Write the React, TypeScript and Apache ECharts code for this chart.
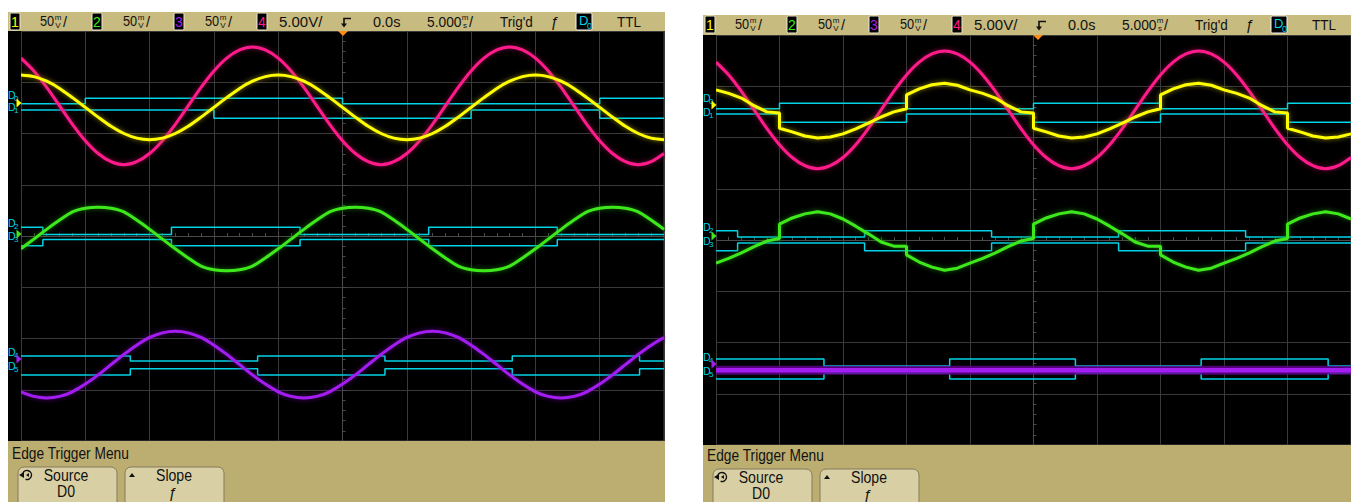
import React, { useEffect, useRef } from "react";
import * as echarts from "echarts";

// ---------- data (time in ms, amplitude in screen divisions) ----------
const TIME_MS = [-25,-24,-23,-22,-21,-20,-19,-18,-17,-16,-15,-14,-13,-12,-11,-10,-9,-8,-7,-6,-5,-4,-3,-2,-1,0,1,2,3,4,5,6,7,8,9,10,11,12,13,14,15,16,17,18,19,20,21,22,23,24,25];

// left screen
const L_CH4 = [3.47,3.22,2.90,2.54,2.18,1.86,1.61,1.45,1.39,1.45,1.61,1.86,2.18,2.54,2.90,3.22,3.47,3.63,3.69,3.63,3.47,3.22,2.90,2.54,2.18,1.86,1.61,1.45,1.39,1.45,1.61,1.86,2.18,2.54,2.90,3.22,3.47,3.63,3.69,3.63,3.47,3.22,2.90,2.54,2.18,1.86,1.61,1.45,1.39,1.45,1.61];
const L_CH1 = [3.14,3.11,3.02,2.88,2.70,2.51,2.32,2.14,2.00,1.91,1.88,1.91,2.00,2.14,2.32,2.51,2.70,2.88,3.02,3.11,3.14,3.11,3.02,2.88,2.70,2.51,2.32,2.14,2.00,1.91,1.88,1.91,2.00,2.14,2.32,2.51,2.70,2.88,3.02,3.11,3.14,3.11,3.02,2.88,2.70,2.51,2.32,2.14,2.00,1.91,1.88];
const L_CH2 = [-0.25,-0.06,0.13,0.31,0.47,0.54,0.56,0.54,0.47,0.31,0.13,-0.06,-0.25,-0.43,-0.59,-0.66,-0.68,-0.66,-0.59,-0.43,-0.25,-0.06,0.13,0.31,0.47,0.54,0.56,0.54,0.47,0.31,0.13,-0.06,-0.25,-0.43,-0.59,-0.66,-0.68,-0.66,-0.59,-0.43,-0.25,-0.06,0.13,0.31,0.47,0.54,0.56,0.54,0.47,0.31,0.13];
const L_CH3 = [-3.04,-3.13,-3.16,-3.13,-3.04,-2.89,-2.71,-2.51,-2.31,-2.13,-1.98,-1.89,-1.86,-1.89,-1.98,-2.13,-2.31,-2.51,-2.71,-2.89,-3.04,-3.13,-3.16,-3.13,-3.04,-2.89,-2.71,-2.51,-2.31,-2.13,-1.98,-1.89,-1.86,-1.89,-1.98,-2.13,-2.31,-2.51,-2.71,-2.89,-3.04,-3.13,-3.16,-3.13,-3.04,-2.89,-2.71,-2.51,-2.31,-2.13,-1.98];

const L_D0 = [[-25,2.58],[-20,2.69],[0,2.58],[20,2.69],[25,2.69]];
const L_D1 = [[-25,2.46],[-10,2.30],[10,2.46],[20,2.30],[25,2.30]];
const L_D2 = [[-25,0.17],[-23.3,0.03],[-13.3,0.17],[-3.3,0.03],[6.7,0.17],[16.7,0.03],[25,0.03]];
const L_D3 = [[-25,-0.19],[-23.3,-0.07],[-13.3,-0.19],[-3.3,-0.07],[6.7,-0.19],[16.7,-0.07],[25,-0.07]];
const L_D4 = [[-25,-2.34],[-16.5,-2.44],[-6.6,-2.34],[3.3,-2.44],[13.2,-2.34],[23.1,-2.44],[25,-2.44]];
const L_D5 = [[-25,-2.71],[-16.5,-2.59],[-6.6,-2.71],[3.3,-2.59],[13.2,-2.71],[23.1,-2.59],[25,-2.59]];

// right screen
const R_CH4 = [3.47,3.22,2.90,2.54,2.18,1.86,1.61,1.45,1.39,1.45,1.61,1.86,2.18,2.54,2.90,3.22,3.47,3.63,3.69,3.63,3.47,3.22,2.90,2.54,2.18,1.86,1.61,1.45,1.39,1.45,1.61,1.86,2.18,2.54,2.90,3.22,3.47,3.63,3.69,3.63,3.47,3.22,2.90,2.54,2.18,1.86,1.61,1.45,1.39,1.45,1.61];
const R_CH1 = [[-25,2.93],[-24,2.86],[-23,2.77],[-22,2.62],[-21,2.50],[-20,2.48],[-20,2.18],[-19,2.11],[-18,2.03],[-17,1.99],[-16,2.01],[-15,2.07],[-14,2.17],[-13,2.28],[-12,2.40],[-11,2.50],[-10,2.56],[-10,2.83],[-9,2.95],[-8,3.03],[-7,3.06],[-6,3.02],[-5,2.93],[-4,2.86],[-3,2.77],[-2,2.62],[-1,2.50],[0,2.48],[0,2.18],[1,2.11],[2,2.03],[3,1.99],[4,2.01],[5,2.07],[6,2.17],[7,2.28],[8,2.40],[9,2.50],[10,2.56],[10,2.83],[11,2.95],[12,3.03],[13,3.06],[14,3.02],[15,2.93],[16,2.86],[17,2.77],[18,2.62],[19,2.50],[20,2.48],[20,2.18],[21,2.11],[22,2.03],[23,1.99],[24,2.01],[25,2.07]];
const R_CH2 = [[-25,-0.45],[-24,-0.36],[-23,-0.25],[-22,-0.13],[-21,-0.02],[-20,0.03],[-20,0.31],[-19,0.43],[-18,0.51],[-17,0.55],[-16,0.51],[-15,0.41],[-14,0.27],[-13,0.12],[-12,-0.04],[-11,-0.12],[-10,-0.12],[-10,-0.29],[-9,-0.43],[-8,-0.53],[-7,-0.59],[-6,-0.55],[-5,-0.45],[-4,-0.36],[-3,-0.25],[-2,-0.13],[-1,-0.02],[0,0.03],[0,0.31],[1,0.43],[2,0.51],[3,0.55],[4,0.51],[5,0.41],[6,0.27],[7,0.12],[8,-0.04],[9,-0.12],[10,-0.12],[10,-0.29],[11,-0.43],[12,-0.53],[13,-0.59],[14,-0.55],[15,-0.45],[16,-0.36],[17,-0.25],[18,-0.13],[19,-0.02],[20,0.03],[20,0.31],[21,0.43],[22,0.51],[23,0.55],[24,0.51],[25,0.41]];
const R_CH3 = [[-25,-2.54],[25,-2.54]];

const R_D0 = [[-25,2.56],[-20,2.67],[-10,2.56],[0,2.67],[10,2.56],[20,2.67],[25,2.67]];
const R_D1 = [[-25,2.46],[-20,2.30],[-10,2.46],[0,2.30],[10,2.46],[20,2.30],[25,2.30]];
const R_D2 = [[-25,0.18],[-23.3,0.06],[-13.3,0.18],[-3.3,0.06],[6.7,0.18],[16.7,0.06],[25,0.06]];
const R_D3 = [[-25,-0.21],[-23.3,-0.06],[-13.3,-0.21],[-3.3,-0.06],[6.7,-0.21],[16.7,-0.06],[25,-0.06]];
const R_D4 = [[-25,-2.32],[-16.5,-2.46],[-6.6,-2.32],[3.3,-2.46],[13.2,-2.32],[23.2,-2.46],[25,-2.46]];
const R_D5 = [[-25,-2.71],[-16.5,-2.60],[-6.6,-2.71],[3.3,-2.60],[13.2,-2.71],[23.2,-2.60],[25,-2.60]];

// header / menu texts
const CH_NUMS = ["1", "2", "3", "4"];
const CH_SCALES = ["50", "50", "50"];
const CH4_SCALE = "5.00V/";
const DELAY = "0.0s";
const TIMEBASE = "5.000";
const TRIG_STATE = "Trig'd";
const TRIG_LEVEL = "TTL";
const MENU_TITLE = "Edge Trigger Menu";
const SOFTKEYS = [["Source", "D0"], ["Slope", "ƒ"]];

// ---------- styling ----------
const TAN = "#c8bb7f";
const MENU_TAN = "#bcae70";
const BTN = "#d8d0a4";
const YELLOW = "#ffff00";
const GREEN = "#3ee81c";
const PURPLE = "#a41ef2";
const PINK = "#ff1a8a";
const CYAN = "#00d4e6";
const FONT = '"Liberation Sans",Arial,sans-serif';
const CH_COLORS = [YELLOW, GREEN, PURPLE, PINK];

const txt = (x: number, y: number, text: string, fill: string, size = 14.5, align = "left", z = 20, sx = 1) => ({
  type: "text", x, y, z, silent: true, scaleX: sx,
  style: { text, fill, font: `${size}px ${FONT}`, textAlign: align, textVerticalAlign: "middle" },
});
const rect = (x: number, y: number, w: number, h: number, fill: string, stroke?: string, r = 0, z = 10) => ({
  type: "rect", z, silent: true,
  shape: { x, y, width: w, height: h, r },
  style: { fill, stroke: stroke || null, lineWidth: 1 },
});
const poly = (points: number[][], fill: string, z = 21) => ({
  type: "polygon", z, silent: true, shape: { points }, style: { fill },
});

function header(ox: number, top: number, width: number, plotTop: number) {
  const cy = top + 9.5;
  const els: any[] = [rect(ox + 8, top, width, plotTop - top, TAN)];
  const boxX = [10, 92, 174, 257];
  boxX.forEach((bx, i) => {
    els.push(rect(ox + bx, cy - 8.5, 10, 17, "#000", "#ece8d6", 1.5, 15));
    els.push(txt(ox + bx + 5, cy, CH_NUMS[i], CH_COLORS[i], 14, "center"));
  });
  const sx = [40, 123, 205];
  sx.forEach((x, i) => {
    els.push(txt(ox + x, cy, CH_SCALES[i], "#111", 14.5, "left", 20, 0.88));
    els.push(txt(ox + x + 18, cy - 4, "m", "#111", 8, "center"));
    els.push(txt(ox + x + 18, cy + 4, "V", "#111", 8, "center"));
    els.push(txt(ox + x + 23, cy, "/", "#111"));
  });
  els.push(txt(ox + 279, cy, CH4_SCALE, "#111", 15));
  // trigger position symbol
  els.push({ type: "polyline", z: 21, silent: true, shape: { points: [[ox + 351, cy - 3], [ox + 344, cy - 3], [ox + 344, cy + 3]] }, style: { stroke: "#111", lineWidth: 1.6, fill: null } });
  els.push(poly([[ox + 341, cy + 2], [ox + 347, cy + 2], [ox + 344, cy + 6]], "#111"));
  els.push(poly([[ox + 338, plotTop], [ox + 348, plotTop], [ox + 343, plotTop + 5]], "#ff8c1a", 30));
  els.push(txt(ox + 373, cy, DELAY, "#111"));
  els.push(txt(ox + 427, cy, TIMEBASE, "#111", 14.5, "left", 20, 0.95));
  els.push(txt(ox + 465, cy - 4, "m", "#111", 8, "center"));
  els.push(txt(ox + 465, cy + 4, "s", "#111", 8, "center"));
  els.push(txt(ox + 469, cy, "/", "#111"));
  els.push(txt(ox + 500, cy, TRIG_STATE, "#111", 14.5, "left", 20, 0.93));
  els.push(txt(ox + 555, cy, "ƒ", "#111", 15, "center"));
  els.push(rect(ox + 576, cy - 8.5, 16, 17, "#000", "#f4f4f4", 1.5, 15));
  els.push(txt(ox + 579, cy - 1, "D", CYAN, 13));
  els.push(txt(ox + 587, cy + 4, "0", CYAN, 9));
  els.push(txt(ox + 617, cy, TRIG_LEVEL, "#111", 14.5, "left", 20, 0.93));
  return els;
}

function menu(ox: number, barTop: number, width: number, ct: number) {
  const els: any[] = [rect(ox + 8, barTop, width, 502 - barTop, MENU_TAN)];
  els.push(txt(ox + 12, ct + 12, MENU_TITLE, "#111", 16, "left", 20, 0.86));
  els.push(rect(ox + 18, ct + 26, 99, 45, BTN, "#857b5c", 6, 12));
  els.push(rect(ox + 125, ct + 26, 99, 45, BTN, "#857b5c", 6, 12));
  els.push({ type: "arc", z: 21, silent: true, shape: { cx: ox + 27, cy: ct + 34, r: 4.5, startAngle: -Math.PI * 0.9, endAngle: Math.PI * 0.6 }, style: { stroke: "#111", lineWidth: 1.4, fill: null } });
  els.push(poly([[ox + 19, ct + 34], [ox + 24, ct + 31], [ox + 24, ct + 37]], "#111"));
  els.push(poly([[ox + 26, ct + 34], [ox + 29, ct + 32], [ox + 29, ct + 36]], "#111"));
  els.push(txt(ox + 66, ct + 34, SOFTKEYS[0][0], "#111", 16, "center", 20, 0.88));
  els.push(txt(ox + 66, ct + 50, SOFTKEYS[0][1], "#111", 16, "center", 20, 0.88));
  els.push(poly([[ox + 129, ct + 36], [ox + 135, ct + 36], [ox + 132, ct + 32]], "#111"));
  els.push(txt(ox + 174, ct + 34, SOFTKEYS[1][0], "#111", 16, "center", 20, 0.88));
  els.push(txt(ox + 173, ct + 51, SOFTKEYS[1][1], "#111", 15, "center"));
  return els;
}

function dLabel(x: number, y: number, n: string) {
  return [txt(x, y, "D", CYAN, 10.5, "left", 22), txt(x + 6, y + 3.5, n, CYAN, 8, "left", 22)];
}
function strip(ox: number, plotTop: number, marks: { d: number[]; tri: number; col: string; n: string[] }[]) {
  const els: any[] = [rect(ox + 8, plotTop, 13, 410, "#000")];
  marks.forEach((m) => {
    els.push(...dLabel(ox + 8, m.d[0], m.n[0]));
    els.push(...dLabel(ox + 8, m.d[1], m.n[1]));
    els.push(poly([[ox + 16.5, m.tri - 4.5], [ox + 21.5, m.tri], [ox + 16.5, m.tri + 4.5]], m.col, 23));
  });
  return els;
}

function buildOption() {
  const grids = [
    { left: 21, top: 31, width: 643, height: 410 },
    { left: 716, top: 35, width: 643, height: 410 },
  ].map((g) => ({ ...g, show: true, backgroundColor: "#000", borderColor: "#4a4a4a", borderWidth: 1 }));

  const GRIDC = "#3a3a3a";
  const xAxes = [0, 1].map((i) => ({
    type: "value", gridIndex: i, min: -25, max: 25, interval: 5,
    axisLabel: { show: false },
    splitLine: { show: true, lineStyle: { color: GRIDC, width: 1 } },
    axisLine: { show: true, onZero: true, lineStyle: { color: "#4a4a4a" } },
    axisTick: { show: true, inside: true, length: 4, lineStyle: { color: "#4a4a4a" } },
    minorTick: { show: true, splitNumber: 5, length: 3, lineStyle: { color: "#4a4a4a" } },
  }));
  const yAxes = [0, 1].map((i) => ({
    type: "value", gridIndex: i, min: -4, max: 4, interval: 1,
    axisLabel: { show: false },
    splitLine: { show: true, lineStyle: { color: GRIDC, width: 1 } },
    axisLine: { show: true, onZero: true, lineStyle: { color: "#4a4a4a" } },
    axisTick: { show: true, inside: true, length: 4, lineStyle: { color: "#4a4a4a" } },
    minorTick: { show: true, splitNumber: 5, length: 3, lineStyle: { color: "#4a4a4a" } },
  }));

  const pairs = (vals: number[]) => vals.map((v, k) => [TIME_MS[k], v]);
  const analog = (i: number, data: any[], color: string, halo: string, width = 3, smooth: any = 0.25) => ({
    type: "line", xAxisIndex: i, yAxisIndex: i, data, showSymbol: false, smooth, silent: true, z: 4,
    lineStyle: { color, width, shadowColor: halo, shadowBlur: 5 },
  });
  const flat = (i: number, data: any[], color: string, width: number, z: number) => ({
    type: "line", xAxisIndex: i, yAxisIndex: i, data, showSymbol: false, silent: true, z,
    lineStyle: { color, width },
  });
  const digital = (i: number, data: any[]) => ({
    type: "line", xAxisIndex: i, yAxisIndex: i, data, step: "end", showSymbol: false, silent: true, z: 3,
    lineStyle: { color: CYAN, width: 1.5 },
  });

  const series = [
    digital(0, L_D0), digital(0, L_D1), digital(0, L_D2), digital(0, L_D3), digital(0, L_D4), digital(0, L_D5),
    analog(0, pairs(L_CH4), PINK, "rgba(140,0,70,0.9)"),
    analog(0, pairs(L_CH1), YELLOW, "rgba(150,140,0,0.95)"),
    analog(0, pairs(L_CH2), GREEN, "rgba(20,120,0,0.95)"),
    analog(0, pairs(L_CH3), PURPLE, "rgba(90,0,140,0.95)"),
    digital(1, R_D0), digital(1, R_D1), digital(1, R_D2), digital(1, R_D3), digital(1, R_D4), digital(1, R_D5),
    analog(1, pairs(R_CH4), PINK, "rgba(140,0,70,0.9)"),
    analog(1, R_CH1, YELLOW, "rgba(150,140,0,0.95)", 3, false),
    analog(1, R_CH2, GREEN, "rgba(20,120,0,0.95)", 3, false),
    flat(1, R_CH3, "rgba(95,0,140,0.85)", 9, 4),
    flat(1, R_CH3, PURPLE, 4.5, 5),
  ];

  const graphic = [
    ...header(0, 12, 657, 31),
    ...header(695, 15, 648, 35),
    ...menu(0, 441, 657, 441),
    ...menu(695, 445, 648, 443),
    ...strip(0, 31, [
      { d: [95, 107], tri: 103, col: YELLOW, n: ["0", "1"] },
      { d: [223, 236], tri: 234, col: GREEN, n: ["2", "3"] },
      { d: [352, 366], tri: 359, col: PURPLE, n: ["4", "5"] },
    ]),
    ...strip(695, 35, [
      { d: [98, 112], tri: 105, col: YELLOW, n: ["0", "1"] },
      { d: [227, 241], tri: 236, col: GREEN, n: ["2", "3"] },
      { d: [357, 371], tri: 364, col: PURPLE, n: ["4", "5"] },
    ]),
  ];

  return { animation: false, backgroundColor: "#ffffff", grid: grids, xAxis: xAxes, yAxis: yAxes, series, graphic };
}

export default function App() {
  const ref = useRef<HTMLDivElement>(null);
  useEffect(() => {
    document.body.style.margin = "0";
    const chart = echarts.init(ref.current as HTMLDivElement, null, { renderer: "svg", width: 1351, height: 502 });
    chart.setOption(buildOption() as any);
    return () => chart.dispose();
  }, []);
  return <div ref={ref} style={{ width: 1351, height: 502, overflow: "hidden" }} />;
}
